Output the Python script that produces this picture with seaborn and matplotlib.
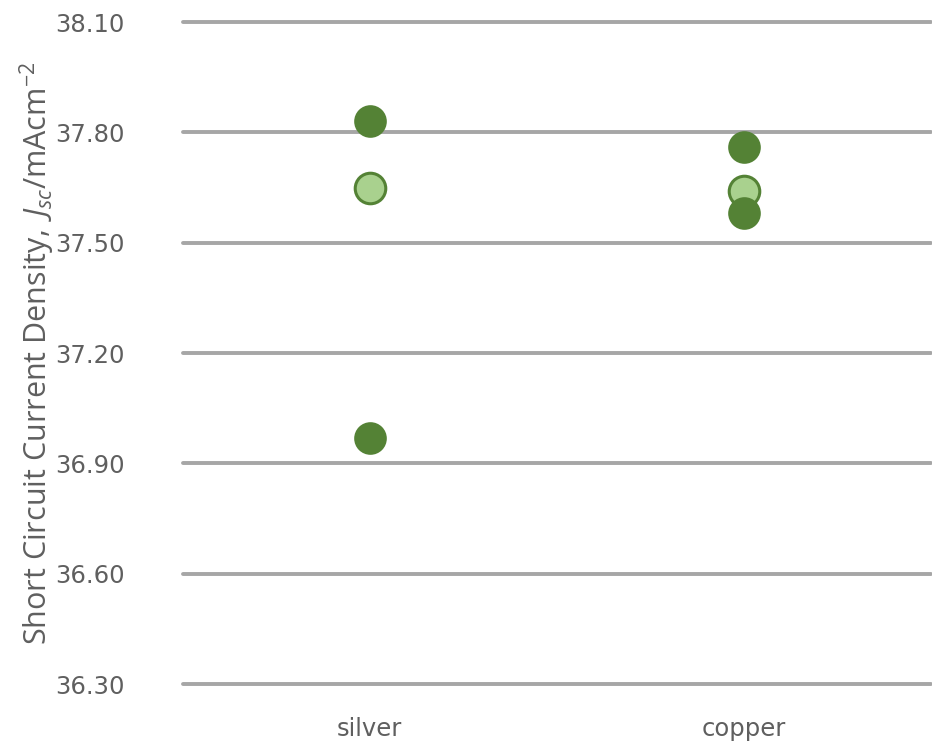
import matplotlib
matplotlib.use("Agg")
import matplotlib.pyplot as plt
import seaborn as sns
import pandas as pd

# Measured short-circuit current density per contact metal
categories = ["silver", "copper"]
light_values = [37.65, 37.64]          # light-green series
dark_silver = [37.83, 36.97]           # dark-green series, silver
dark_copper = [37.76, 37.58]           # dark-green series, copper
y_ticks = [36.30, 36.60, 36.90, 37.20, 37.50, 37.80, 38.10]

rows = []
for cat, v in zip(categories, light_values):
    rows.append({"metal": cat, "jsc": v, "series": "light"})
for v in dark_silver:
    rows.append({"metal": "silver", "jsc": v, "series": "dark"})
for v in dark_copper:
    rows.append({"metal": "copper", "jsc": v, "series": "dark"})
df = pd.DataFrame(rows)

sns.set_theme(style="white")
plt.rcParams["font.family"] = ["DejaVu Sans"]
plt.rcParams["mathtext.fontset"] = "custom"
plt.rcParams["mathtext.rm"] = "Open Sans"
plt.rcParams["mathtext.it"] = "Open Sans:italic"

text_color = "#5f5f5f"
dark_green = "#548235"
light_green = "#A9D18E"

fig = plt.figure(figsize=(9.32, 7.46), dpi=100)
ax = fig.add_axes([0.196, 0.0831, 0.803, 0.8874])

for y in y_ticks:
    ax.axhline(y, color="#A6A6A6", lw=2.8, zorder=0, clip_on=False)

sns.stripplot(data=df[df.series == "light"], x="metal", y="jsc", order=categories,
              jitter=False, color=light_green, edgecolor=dark_green, linewidth=2.2,
              size=22, ax=ax, zorder=3)
sns.stripplot(data=df[df.series == "dark"], x="metal", y="jsc", order=categories,
              jitter=False, color=dark_green, edgecolor=dark_green, linewidth=1.5,
              size=22, ax=ax, zorder=4)

ax.set_xlim(-0.5, 1.5)
ax.set_ylim(36.30, 38.10)
ax.set_yticks(y_ticks)
ax.set_yticklabels([f"{t:.2f}" for t in y_ticks])
ax.tick_params(axis="both", length=0, labelsize=17.5, colors=text_color)
ax.tick_params(axis="y", pad=42)
ax.tick_params(axis="x", pad=24)
ax.set_xlabel("")
ax.set_ylabel("Short Circuit Current Density, $\\,J_{sc}$/mAcm$^{-2}$",
              fontsize=22, color=text_color, labelpad=-2,
              family=["Open Sans", "DejaVu Sans"])
for s in ax.spines.values():
    s.set_visible(False)
for coll in ax.collections:
    coll.set_clip_on(False)

fig.savefig("out.png", dpi=100)
